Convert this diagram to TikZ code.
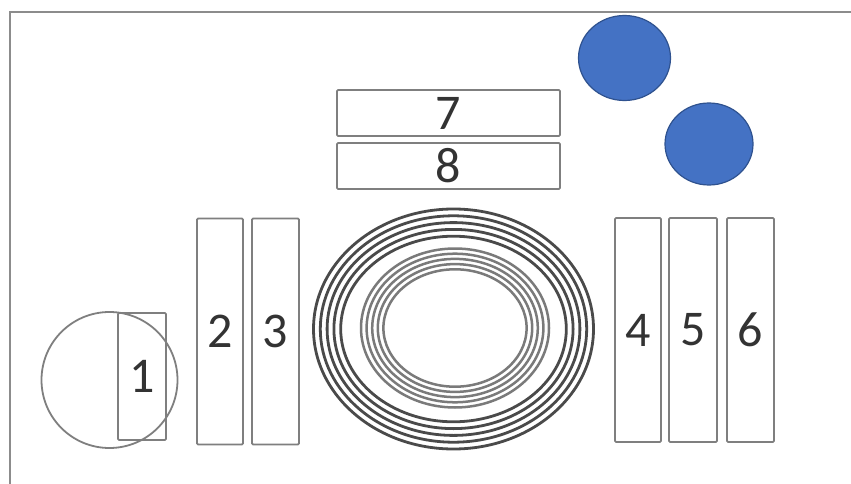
\documentclass[tikz,border=0pt]{standalone}
\usepackage{fontspec}
\setmainfont{Carlito}
\definecolor{linegray}{HTML}{7F7F7F}
\definecolor{framegray}{HTML}{8C8C8C}
\definecolor{ringdark}{HTML}{4A4A4A}
\definecolor{ringlight}{HTML}{7A7A7A}
\definecolor{dotblue}{HTML}{4472C4}
\definecolor{dotedge}{HTML}{2F528F}
\definecolor{numcol}{HTML}{333333}
\begin{document}
\begin{tikzpicture}[x=1pt,y=-1pt,
  box/.style={draw=linegray,line width=1.8pt,rounded corners=1.2pt,inner sep=0pt,
    font=\fontsize{50}{60}\selectfont,text=numcol},
  tallbox/.style={box,minimum width=46pt,minimum height=226pt},
  widebox/.style={box,minimum width=223pt,minimum height=46pt},
  outerring/.style={draw=ringdark,line width=2.8pt},
  innerring/.style={draw=ringlight,line width=2.5pt},
  dot/.style={fill=dotblue,draw=dotedge,line width=1.2pt}]
\useasboundingbox (0,0) rectangle (851,484);
\fill[white] (0,0) rectangle (851,484);
% frame
\draw[framegray,line width=2pt] (851,12) -- (10,12) -- (10,484);
% blue dots
\draw[dot] (624.5,58) ellipse [x radius=46pt,y radius=42.5pt];
\draw[dot] (709,144) ellipse [x radius=44pt,y radius=41pt];
% boxes 7 and 8
\node[widebox] (b7) at (448.5,113) {7};
\node[widebox] (b8) at (448.5,166) {8};
% left boxes
\node[box,minimum width=48pt,minimum height=127pt] (b1) at (142,376.5) {1};
\draw[linegray,line width=1.8pt] (109.5,380) circle [radius=68pt];
\node[tallbox] (b2) at (220,331.5) {2};
\node[tallbox,minimum width=47pt] (b3) at (275.5,331.5) {3};
% right boxes
\node[tallbox,minimum height=224pt] (b4) at (638,330) {4};
\node[tallbox,minimum height=224pt,minimum width=48pt] (b5) at (693,330) {5};
\node[tallbox,minimum height=224pt,minimum width=47pt] (b6) at (750.5,330) {6};
% concentric rings
\foreach \i in {0,...,4}{
  \draw[outerring] (453.5,329) ellipse [x radius={(140-6.8*\i)*1pt},y radius={(120-6.8*\i)*1pt}];
}
\foreach \i in {0,...,4}{
  \draw[innerring] (455,328) ellipse [x radius={(94-5.6*\i)*1pt},y radius={(79.5-5.2*\i)*1pt}];
}
\end{tikzpicture}
\end{document}
